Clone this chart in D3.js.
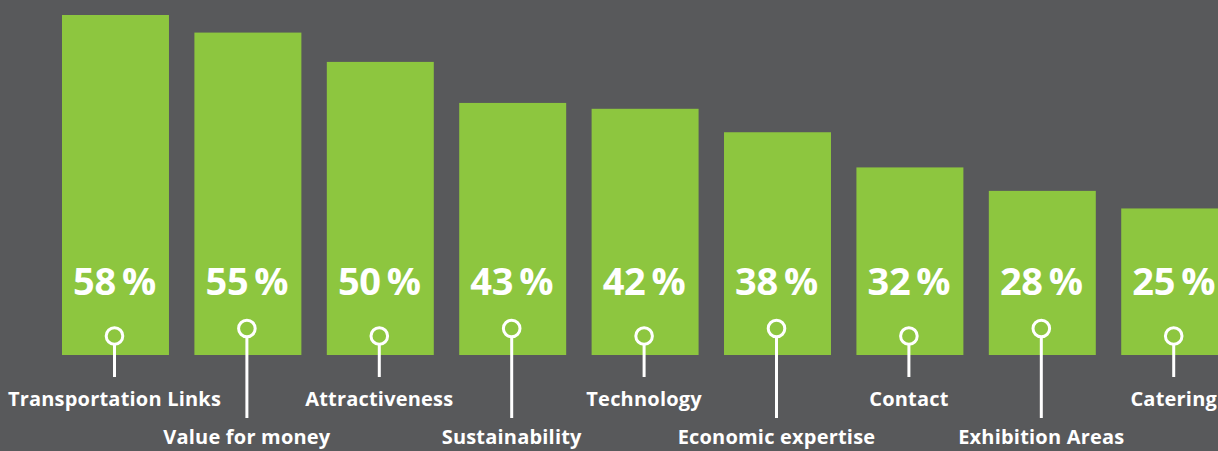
<!DOCTYPE html>
<html><head><meta charset="utf-8">
<script src="https://cdn.jsdelivr.net/npm/d3@7"></script>
<style>
html,body{margin:0;padding:0;background:#58595b;overflow:hidden;}
text{font-family:"Open Sans",Lato,sans-serif;font-weight:700;fill:#fff;}
</style></head>
<body><svg id="c" width="1218" height="451"></svg>
<script>
const categories = ["Transportation Links","Value for money","Attractiveness","Sustainability","Technology","Economic expertise","Contact","Exhibition Areas","Catering"];
const values = [58,55,50,43,42,38,32,28,25];
const valueLabels = ["58\u2009%","55\u2009%","50\u2009%","43\u2009%","42\u2009%","38\u2009%","32\u2009%","28\u2009%","25\u2009%"];

const svg = d3.select("#c");
svg.append("rect").attr("width",1218).attr("height",451).attr("fill","#58595b");

const x = d3.scaleBand().domain(categories).range([62,1228.2]).paddingInner(0.192).paddingOuter(0);
const y = d3.scaleLinear().domain([0,58]).range([355,15]);

const g = svg.selectAll("g.bar").data(categories).enter().append("g").attr("class","bar");
g.append("rect")
  .attr("x",d=>x(d)).attr("width",x.bandwidth())
  .attr("y",(d,i)=>y(values[i])).attr("height",(d,i)=>y(0)-y(values[i]))
  .attr("fill","#8dc63f");

const cx = d=>x(d)+x.bandwidth()/2 - 1;
g.append("text")
  .attr("x",cx).attr("y",295)
  .attr("text-anchor","middle").attr("font-size",38)
  .attr("letter-spacing","-0.3")
  .text((d,i)=>valueLabels[i]);

g.append("line")
  .attr("x1",cx).attr("x2",cx)
  .attr("y1",(d,i)=>i%2?337:345)
  .attr("y2",(d,i)=>i%2?418:377)
  .attr("stroke","#fff").attr("stroke-width",3);
g.append("circle")
  .attr("cx",cx).attr("cy",(d,i)=>i%2?328.5:336)
  .attr("r",8.3).attr("fill","#8dc63f").attr("stroke","#fff").attr("stroke-width",3);

g.append("text")
  .attr("x",cx).attr("y",(d,i)=>i%2?444:406)
  .attr("text-anchor","middle").attr("font-size",20)
  .attr("letter-spacing","0.2")
  .text(d=>d);
</script></body></html>
